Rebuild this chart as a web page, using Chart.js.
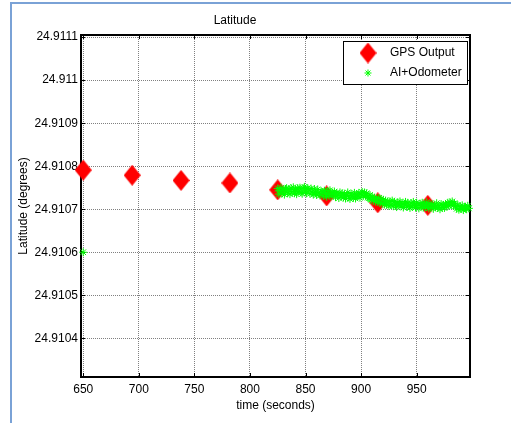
<!DOCTYPE html>
<html>
<head>
<meta charset="utf-8">
<script src="https://cdn.jsdelivr.net/npm/chart.js@4/dist/chart.umd.min.js"></script>
<style>
  body { margin: 0; background: #fff; }
  #wrap { width: 511px; height: 423px; }
</style>
</head>
<body>
<div id="wrap"><canvas id="latChart" width="511" height="423"></canvas></div>
<script>
// axis ticks
const xTicks = [650, 700, 750, 800, 850, 900, 950];
const yTicks = [24.9104, 24.9105, 24.9106, 24.9107, 24.9108, 24.9109, 24.911, 24.9111];

// GPS fixes
const gpsTime = [650, 694, 738, 782, 825, 869, 915, 960];
const gpsLat = [24.910791, 24.910779, 24.910767, 24.910761, 24.910745, 24.910731, 24.910715, 24.910709];

// AI + odometer estimate (one start point, then one sample per second 825..997)
const odoTime = [650,
  825, 826, 827, 828, 829, 830, 831, 832, 833, 834,
  835, 836, 837, 838, 839, 840, 841, 842, 843, 844,
  845, 846, 847, 848, 849, 850, 851, 852, 853, 854,
  855, 856, 857, 858, 859, 860, 861, 862, 863, 864,
  865, 866, 867, 868, 869, 870, 871, 872, 873, 874,
  875, 876, 877, 878, 879, 880, 881, 882, 883, 884,
  885, 886, 887, 888, 889, 890, 891, 892, 893, 894,
  895, 896, 897, 898, 899, 900, 901, 902, 903, 904,
  905, 906, 907, 908, 909, 910, 911, 912, 913, 914,
  915, 916, 917, 918, 919, 920, 921, 922, 923, 924,
  925, 926, 927, 928, 929, 930, 931, 932, 933, 934,
  935, 936, 937, 938, 939, 940, 941, 942, 943, 944,
  945, 946, 947, 948, 949, 950, 951, 952, 953, 954,
  955, 956, 957, 958, 959, 960, 961, 962, 963, 964,
  965, 966, 967, 968, 969, 970, 971, 972, 973, 974,
  975, 976, 977, 978, 979, 980, 981, 982, 983, 984,
  985, 986, 987, 988, 989, 990, 991, 992, 993, 994,
  995, 996, 997];
const odoLat = [24.9106,
  24.910748, 24.910735, 24.910743, 24.910750, 24.910737, 24.910744, 24.910734, 24.910747, 24.910749, 24.910738,
  24.910746, 24.910735, 24.910749, 24.910741, 24.910751, 24.910737, 24.910746, 24.910735, 24.910749, 24.910742,
  24.910750, 24.910739, 24.910736, 24.910748, 24.910752, 24.910742, 24.910737, 24.910749, 24.910745, 24.910736,
  24.910748, 24.910740, 24.910734, 24.910747, 24.910739, 24.910733, 24.910746, 24.910737, 24.910732, 24.910742,
  24.910740, 24.910731, 24.910743, 24.910736, 24.910729, 24.910742, 24.910734, 24.910744, 24.910730, 24.910738,
  24.910735, 24.910741, 24.910728, 24.910737, 24.910733, 24.910726, 24.910739, 24.910731, 24.910737, 24.910727,
  24.910735, 24.910725, 24.910732, 24.910739, 24.910729, 24.910724, 24.910736, 24.910731, 24.910726, 24.910738,
  24.910725, 24.910734, 24.910730, 24.910738, 24.910727, 24.910735, 24.910740, 24.910731, 24.910739, 24.910732,
  24.910737, 24.910727, 24.910726, 24.910733, 24.910722, 24.910729, 24.910720, 24.910727, 24.910718, 24.910725,
  24.910717, 24.910726, 24.910715, 24.910724, 24.910713, 24.910722, 24.910711, 24.910720, 24.910710, 24.910718,
  24.910708, 24.910718, 24.910710, 24.910720, 24.910707, 24.910717, 24.910712, 24.910705, 24.910716, 24.910710,
  24.910718, 24.910707, 24.910713, 24.910704, 24.910712, 24.910717, 24.910706, 24.910715, 24.910709, 24.910703,
  24.910714, 24.910706, 24.910717, 24.910710, 24.910704, 24.910715, 24.910709, 24.910702, 24.910713, 24.910708,
  24.910715, 24.910704, 24.910710, 24.910705, 24.910716, 24.910708, 24.910702, 24.910713, 24.910704, 24.910711,
  24.910701, 24.910709, 24.910705, 24.910714, 24.910703, 24.910708, 24.910700, 24.910712, 24.910704, 24.910710,
  24.910703, 24.910712, 24.910707, 24.910715, 24.910708, 24.910716, 24.910710, 24.910718, 24.910709, 24.910714,
  24.910707, 24.910701, 24.910710, 24.910699, 24.910706, 24.910701, 24.910709, 24.910698, 24.910705, 24.910703,
  24.910700, 24.910708, 24.910702];

const FONT = { family: "'Liberation Sans', Arial, sans-serif", size: 12 };

// red diamond marker (a bit taller than wide, like the matlab one)
function makeDiamond(w, h) {
  const c = document.createElement('canvas');
  c.width = w; c.height = h;
  const g = c.getContext('2d');
  g.fillStyle = '#ff0000';
  g.beginPath();
  g.moveTo(w / 2, 0);
  g.lineTo(w, h / 2);
  g.lineTo(w / 2, h);
  g.lineTo(0, h / 2);
  g.closePath();
  g.fill();
  return c;
}
const diamond = makeDiamond(17, 21);

function drawStar(ctx, x, y, r) {
  ctx.beginPath();
  ctx.moveTo(x - r, y); ctx.lineTo(x + r, y);
  ctx.moveTo(x, y - r); ctx.lineTo(x, y + r);
  const d = r * Math.SQRT1_2;
  ctx.moveTo(x - d, y - d); ctx.lineTo(x + d, y + d);
  ctx.moveTo(x - d, y + d); ctx.lineTo(x + d, y - d);
  ctx.stroke();
}

// outer blue frame, axes box with inward ticks, and the legend
const matlabLook = {
  id: 'matlabLook',
  beforeDraw(chart) {
    const ctx = chart.ctx;
    ctx.save();
    ctx.fillStyle = '#fff';
    ctx.fillRect(0, 0, chart.width, chart.height);
    ctx.strokeStyle = '#7aa2d6';
    ctx.lineWidth = 2;
    ctx.beginPath();
    ctx.moveTo(11, chart.height);
    ctx.lineTo(11, 3);
    ctx.lineTo(chart.width, 3);
    ctx.stroke();
    ctx.restore();
  },
  beforeDatasetsDraw(chart) {
    const ctx = chart.ctx;
    const a = chart.chartArea;
    const xs = chart.scales.x, ys = chart.scales.y;
    ctx.save();
    ctx.strokeStyle = '#000';
    ctx.lineWidth = 1;
    ctx.beginPath();
    xTicks.forEach(v => {
      const px = Math.round(xs.getPixelForValue(v)) + 0.5;
      ctx.moveTo(px, a.bottom); ctx.lineTo(px, a.bottom - 4);
      ctx.moveTo(px, a.top); ctx.lineTo(px, a.top + 4);
    });
    yTicks.forEach(v => {
      const py = Math.round(ys.getPixelForValue(v)) + 0.5;
      ctx.moveTo(a.left, py); ctx.lineTo(a.left + 4, py);
      ctx.moveTo(a.right, py); ctx.lineTo(a.right - 4, py);
    });
    ctx.stroke();
    ctx.lineWidth = 2;
    ctx.strokeRect(a.left, a.top, a.right - a.left, a.bottom - a.top);
    ctx.restore();
  },
  afterDraw(chart) {
    const ctx = chart.ctx;
    const ds = chart.data.datasets;
    const bx = 343, by = 41, bw = 124, bh = 43;
    ctx.save();
    ctx.fillStyle = '#fff';
    ctx.fillRect(bx, by, bw, bh);
    ctx.strokeStyle = '#000';
    ctx.lineWidth = 1;
    ctx.strokeRect(bx + 0.5, by + 0.5, bw, bh);
    ctx.drawImage(diamond, 368 - diamond.width / 2, 53 - diamond.height / 2);
    ctx.strokeStyle = '#00ff00';
    drawStar(ctx, 368, 73, 3.5);
    ctx.fillStyle = '#000';
    ctx.font = FONT.size + 'px ' + FONT.family;
    ctx.textBaseline = 'middle';
    ctx.textAlign = 'left';
    ctx.fillText(ds[0].label, 390, 53);
    ctx.fillText(ds[1].label, 390, 73);
    ctx.restore();
  }
};

const gridStyle = { color: '#808080', lineWidth: 1, drawTicks: false };

new Chart(document.getElementById('latChart').getContext('2d'), {
  type: 'scatter',
  data: {
    datasets: [{
      label: 'GPS Output',
      data: gpsTime.map((t, i) => ({ x: t, y: gpsLat[i] })),
      pointStyle: diamond,
      pointRadius: 9,
      order: 1,
      clip: false,
    }, {
      label: 'AI+Odometer',
      data: odoTime.map((t, i) => ({ x: t, y: odoLat[i] })),
      pointStyle: 'star',
      pointRadius: 4,
      borderWidth: 1,
      borderColor: '#00ff00',
      backgroundColor: '#00ff00',
      order: 0,
      clip: false,
    }],
  },
  options: {
    responsive: false,
    animation: false,
    layout: { padding: { left: 0, top: 0, right: 41, bottom: 0 } },
    plugins: {
      legend: { display: false },
      tooltip: { enabled: false },
      title: {
        display: true,
        text: 'Latitude',
        color: '#000',
        font: { family: FONT.family, size: 12, weight: 'normal' },
        padding: { top: 13.8, bottom: 6.8 },
      },
    },
    scales: {
      x: {
        type: 'linear',
        min: 648,
        max: 998,
        grid: gridStyle,
        border: { display: false, dash: [1, 1] },
        afterBuildTicks: s => { s.ticks = xTicks.map(v => ({ value: v })); },
        afterFit: s => { s.height = 46; },
        ticks: { color: '#000', font: FONT, padding: 5, maxRotation: 0 },
        title: {
          display: true,
          text: 'time (seconds)',
          color: '#000',
          font: FONT,
          padding: { top: 0, bottom: 9.8 },
        },
      },
      y: {
        type: 'linear',
        min: 24.91031,
        max: 24.911105,
        grid: gridStyle,
        border: { display: false, dash: [1, 1] },
        afterBuildTicks: s => { s.ticks = yTicks.map(v => ({ value: v })); },
        afterFit: s => { s.width = 81; },
        ticks: {
          color: '#000',
          font: FONT,
          padding: 3,
          callback: v => parseFloat(v.toFixed(4)).toString(),
        },
        title: {
          display: true,
          text: 'Latitude (degrees)',
          color: '#000',
          font: FONT,
          padding: { top: 16.8, bottom: 0 },
        },
      },
    },
  },
  plugins: [matlabLook],
});
</script>
</body>
</html>
